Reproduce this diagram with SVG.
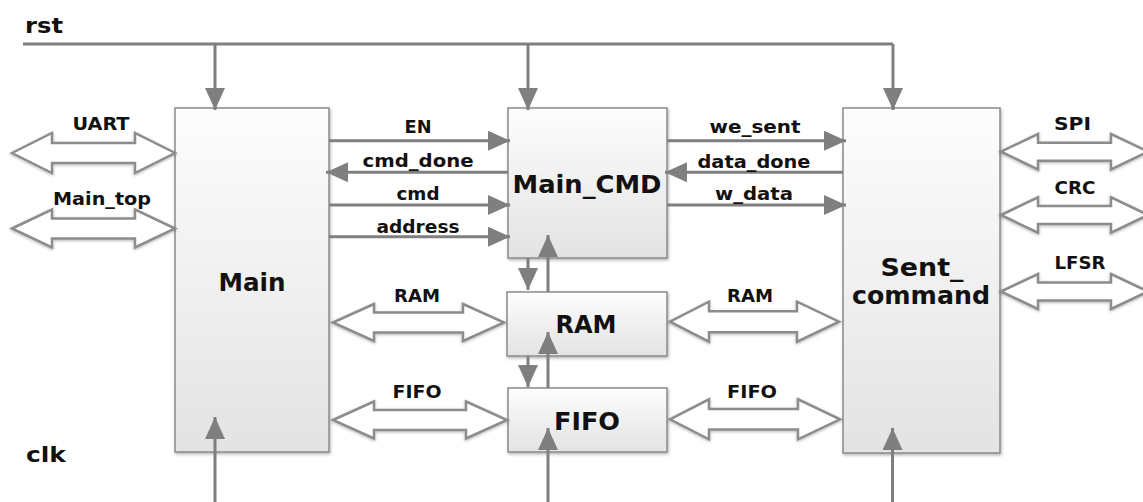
<svg xmlns="http://www.w3.org/2000/svg" width="1143" height="502" viewBox="0 0 1143 502">
  <defs>
    <linearGradient id="boxGrad" x1="0" y1="0" x2="0" y2="1">
      <stop offset="0" stop-color="#fdfdfd"/>
      <stop offset="1" stop-color="#e3e3e3"/>
    </linearGradient>
    <filter id="shadow" x="-10%" y="-10%" width="120%" height="120%">
      <feDropShadow dx="1" dy="1.5" stdDeviation="1.5" flood-color="#000" flood-opacity="0.3"/>
    </filter>
    <filter id="glow" x="-10%" y="-30%" width="120%" height="160%">
      <feDropShadow dx="0" dy="1" stdDeviation="1.5" flood-color="#000" flood-opacity="0.3"/>
    </filter>
    <marker id="head" markerUnits="userSpaceOnUse" markerWidth="22" markerHeight="20" refX="22" refY="10" orient="auto">
      <path d="M0,0 L22,10 L0,20 Z" fill="#7f7f7f"/>
    </marker>
    <style>
      .box { fill: url(#boxGrad); stroke: #8a8a8a; stroke-width: 1.5; filter: url(#shadow); }
      .wire { fill: none; stroke: #7f7f7f; stroke-width: 3; }
      .arr { fill: none; stroke: #7f7f7f; stroke-width: 3; marker-end: url(#head); }
      .bus { fill: #ffffff; stroke: #8c8c8c; stroke-width: 2.5; stroke-linejoin: miter; filter: url(#glow); }
      text { font-family: "DejaVu Sans", Verdana, sans-serif; font-weight: bold; fill: #111; }
      .lbl { font-size: 18px; text-anchor: middle; }
      .big { font-size: 24px; text-anchor: middle; }
      .sig { font-size: 21px; }
    </style>
  </defs>

  <rect width="1143" height="502" fill="#ffffff"/>

  <!-- signal labels -->
  <text class="sig" x="25" y="33" textLength="38" lengthAdjust="spacingAndGlyphs">rst</text>
  <text class="sig" x="26" y="462" textLength="40" lengthAdjust="spacingAndGlyphs">clk</text>

  <!-- nodes -->
  <g id="main">
    <rect class="box" x="175" y="108" width="154" height="344"/>
    <text class="big" x="252" y="291" textLength="67" lengthAdjust="spacingAndGlyphs">Main</text>
  </g>
  <g id="main_cmd">
    <rect class="box" x="508" y="108" width="159" height="150"/>
    <text class="big" x="587" y="193" textLength="149" lengthAdjust="spacingAndGlyphs">Main_CMD</text>
  </g>
  <g id="ram">
    <rect class="box" x="507" y="292" width="160" height="64"/>
    <text class="big" x="586" y="333" textLength="61" lengthAdjust="spacingAndGlyphs">RAM</text>
  </g>
  <g id="fifo">
    <rect class="box" x="508" y="388" width="159" height="64"/>
    <text class="big" x="587" y="430" textLength="66" lengthAdjust="spacingAndGlyphs">FIFO</text>
  </g>
  <g id="sent_command">
    <rect class="box" x="843" y="108" width="157" height="345"/>
    <text class="big" x="922" y="276" textLength="83" lengthAdjust="spacingAndGlyphs">Sent_</text>
    <text class="big" x="921" y="304" textLength="138" lengthAdjust="spacingAndGlyphs">command</text>
  </g>

  <!-- connectors -->
  <g id="connectors">
    <!-- rst -->
    <path class="wire" d="M23,44 H893"/>
    <path class="arr" d="M893,44 V110"/>
    <path class="arr" d="M215,44 V110"/>
    <path class="arr" d="M528,44 V110"/>
    <!-- clk -->
    <path class="arr" d="M215,502 V417"/>
    <path class="arr" d="M548,502 V428"/>
    <path class="arr" d="M892.5,502 V428"/>
    <!-- Main <-> Main_CMD -->
    <path class="arr" d="M329,140.7 H510"/>
    <path class="arr" d="M508,172.3 H326"/>
    <path class="arr" d="M329,205 H510"/>
    <path class="arr" d="M329,236.7 H510"/>
    <!-- Main_CMD <-> Sent_command -->
    <path class="arr" d="M667,140.7 H846"/>
    <path class="arr" d="M843,172.3 H665"/>
    <path class="arr" d="M667,205 H846"/>
    <!-- vertical between Main_CMD, RAM, FIFO -->
    <path class="arr" d="M528,258 V290"/>
    <path class="arr" d="M548,292 V235"/>
    <path class="arr" d="M528,356 V387"/>
    <path class="arr" d="M548,388 V332"/>

    <!-- bidirectional buses -->
    <polygon class="bus" points="12,153 52,133 52,143 135,143 135,133 175,153 135,173 135,163 52,163 52,173"/>
    <polygon class="bus" points="12,228.5 52,209.5 52,218.5 135,218.5 135,209.5 175,228.5 135,247.5 135,238.5 52,238.5 52,247.5"/>
    <polygon class="bus" points="333,322.5 374,304 374,312.5 463,312.5 463,304 504,322.5 463,341 463,332.5 374,332.5 374,341"/>
    <polygon class="bus" points="333,420 374,401.5 374,410 466,410 466,401.5 507,420 466,438.5 466,430 374,430 374,438.5"/>
    <polygon class="bus" points="670,321.7 709,301.7 709,311.2 797,311.2 797,301.7 839,321.7 797,341.7 797,332.2 709,332.2 709,341.7"/>
    <polygon class="bus" points="670,419.3 709,399.3 709,409 798,409 798,399.3 840,419.3 798,439.3 798,429.6 709,429.6 709,439.3"/>
    <polygon class="bus" points="1001,151.7 1038,134 1038,142.7 1111,142.7 1111,134 1148,151.7 1111,169.4 1111,160.7 1038,160.7 1038,169.4"/>
    <polygon class="bus" points="1001,215 1038,197.3 1038,206 1111,206 1111,197.3 1148,215 1111,232.7 1111,224 1038,224 1038,232.7"/>
    <polygon class="bus" points="1001,291.5 1038,274 1038,282.5 1111,282.5 1111,274 1148,291.5 1111,309 1111,300.5 1038,300.5 1038,309"/>
  </g>

  <!-- connector labels -->
  <g id="labels">
    <text class="lbl" x="101" y="130" textLength="57" lengthAdjust="spacingAndGlyphs">UART</text>
    <text class="lbl" x="102" y="205" textLength="98" lengthAdjust="spacingAndGlyphs">Main_top</text>
    <text class="lbl" x="418" y="133" textLength="27" lengthAdjust="spacingAndGlyphs">EN</text>
    <text class="lbl" x="418" y="167" textLength="111" lengthAdjust="spacingAndGlyphs">cmd_done</text>
    <text class="lbl" x="418" y="200" textLength="43" lengthAdjust="spacingAndGlyphs">cmd</text>
    <text class="lbl" x="418" y="233" textLength="83" lengthAdjust="spacingAndGlyphs">address</text>
    <text class="lbl" x="755" y="133" textLength="91" lengthAdjust="spacingAndGlyphs">we_sent</text>
    <text class="lbl" x="754" y="168" textLength="113" lengthAdjust="spacingAndGlyphs">data_done</text>
    <text class="lbl" x="754" y="200" textLength="78" lengthAdjust="spacingAndGlyphs">w_data</text>
    <text class="lbl" x="1072.5" y="130" textLength="37" lengthAdjust="spacingAndGlyphs">SPI</text>
    <text class="lbl" x="1075" y="194" textLength="41" lengthAdjust="spacingAndGlyphs">CRC</text>
    <text class="lbl" x="1080" y="269" textLength="51" lengthAdjust="spacingAndGlyphs">LFSR</text>
    <text class="lbl" x="417" y="302" textLength="46" lengthAdjust="spacingAndGlyphs">RAM</text>
    <text class="lbl" x="417" y="398" textLength="49" lengthAdjust="spacingAndGlyphs">FIFO</text>
    <text class="lbl" x="750" y="302" textLength="46" lengthAdjust="spacingAndGlyphs">RAM</text>
    <text class="lbl" x="752" y="398" textLength="50" lengthAdjust="spacingAndGlyphs">FIFO</text>
  </g>
</svg>
